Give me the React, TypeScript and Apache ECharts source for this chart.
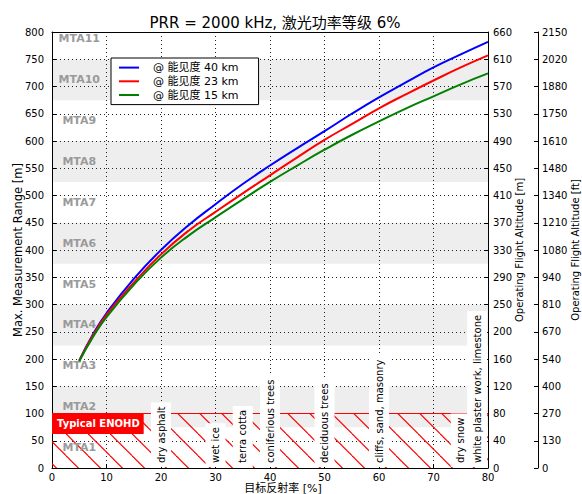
import React, { useEffect, useRef } from "react";
import * as echarts from "echarts";

const FONT = "'DejaVu Sans', 'Noto Sans CJK SC', sans-serif";

// Reflectivity [%] at which the range curves are sampled
const reflectivity = [5, 7.5, 10, 15, 20, 25, 30, 35, 40, 45, 50, 55, 60, 65, 70, 75, 80];
// Max. measurement range [m] per visibility
const range40km = [197, 245, 284, 347, 400, 445, 484, 521, 555, 587, 618, 650, 680, 708, 735, 759, 782];
const range23km = [197, 243, 281, 340, 392, 435, 470, 504, 537, 570, 602, 631, 660, 686, 711, 735, 757];
const range15km = [196, 240, 277, 336, 386, 426, 460, 493, 525, 555, 584, 611, 636, 660, 682, 704, 724];
const seriesNames = ["@ 能见度 40 km", "@ 能见度 23 km", "@ 能见度 15 km"];
const seriesColors = ["#0000ff", "#ff0000", "#008000"];

// Right-hand altitude scales, one label per 50 m range tick
const altitudeMLabels = ["0", "40", "80", "120", "160", "200", "250", "290", "330", "370", "410", "450", "490", "530", "570", "610", "660"];
const altitudeFtLabels = ["0", "130", "270", "400", "540", "670", "810", "940", "1080", "1210", "1340", "1480", "1610", "1750", "1880", "2020", "2150"];

// Multiple-time-around zones
const mtaNames = ["MTA1", "MTA2", "MTA3", "MTA4", "MTA5", "MTA6", "MTA7", "MTA8", "MTA9", "MTA10", "MTA11"];
const mtaBounds = [0, 75, 150, 225, 300, 375, 450, 525, 600, 675, 750, 825];

// Target materials and their typical reflectivity [%]
const materialNames = [
  "dry asphalt",
  "wet ice",
  "terra cotta",
  "coniferious trees",
  "deciduous trees",
  "cliffs, sand, masonry",
  "dry snow",
  "white plaster work, limestone",
];
const materialReflectivity = [20, 30, 35, 40, 50, 60, 75, 78];

// Eye-hazard zone
const enohdRange = 100;
const enohdLabel = "Typical ENOHD";

function makeHatch(): HTMLCanvasElement {
  const s = 22;
  const phase = 15.7;
  const c = document.createElement("canvas");
  c.width = s;
  c.height = s;
  const ctx = c.getContext("2d")!;
  ctx.strokeStyle = "#ff0000";
  ctx.lineWidth = 1.2;
  for (const k of [-s, 0, s]) {
    ctx.beginPath();
    ctx.moveTo(0, k + phase);
    ctx.lineTo(s, k + phase + s);
    ctx.stroke();
  }
  return c;
}

export default function App() {
  const ref = useRef<HTMLDivElement>(null);

  useEffect(() => {
    document.body.style.margin = "0";
    if (!ref.current) return;
    const chart = echarts.init(ref.current, null, { renderer: "svg" });
    const hatch = makeHatch();

    const axisLabelStyle = { fontFamily: FONT, fontSize: 10, color: "#000" };
    const splitLine = { show: true, lineStyle: { color: "#222", width: 1, type: [1, 3] as any } };
    const spine = { show: true, onZero: false, lineStyle: { color: "#000", width: 1 } };
    const ticks = { show: true, inside: true, length: 4, lineStyle: { color: "#000" } };

    const curveSeries = [range40km, range23km, range15km].map((arr, k) => ({
      type: "line",
      name: seriesNames[k],
      data: reflectivity.map((x, i) => [x, arr[i]]),
      smooth: true,
      symbol: "none",
      showSymbol: false,
      lineStyle: { color: seriesColors[k], width: 2 },
      itemStyle: { color: seriesColors[k] },
      z: 5,
    }));

    const option: any = {
      animation: false,
      title: {
        text: "PRR = 2000 kHz, 激光功率等级 6%",
        left: 270,
        top: 10,
        textAlign: "center",
        textStyle: { fontFamily: FONT, fontSize: 15, fontWeight: "normal", color: "#000" },
      },
      grid: { left: 52, top: 32, width: 436, height: 436, containLabel: false, outerBoundsMode: "none" },
      legend: {
        orient: "vertical",
        left: 111,
        top: 58,
        padding: [4, 20, 4, 7],
        itemGap: 2.5,
        itemWidth: 20,
        itemHeight: 14,
        backgroundColor: "#fff",
        borderColor: "#000",
        borderWidth: 1,
        borderRadius: 0,
        itemStyle: { opacity: 0 },
        lineStyle: { width: 2 },
        textStyle: { fontFamily: FONT, fontSize: 11, color: "#000", padding: [0, 0, 0, 9] },
        data: seriesNames,
        z: 6,
      },
      xAxis: [
        {
          type: "value",
          min: 0,
          max: 80,
          interval: 10,
          position: "bottom",
          z: 2,
          axisLine: spine,
          axisTick: ticks,
          axisLabel: { ...axisLabelStyle, margin: 4, lineHeight: 11 },
          splitLine,
          name: "目标反射率 [%]",
          nameLocation: "middle",
          nameGap: 15,
          nameMoveOverlap: false,
          nameTextStyle: {
            fontFamily: FONT,
            fontSize: 11,
            lineHeight: 11,
            color: "#000",
            padding: [0, 0, 0, 26],
          },
        },
        {
          type: "value",
          min: 0,
          max: 80,
          position: "top",
          z: 2,
          axisLine: spine,
          axisTick: { show: false },
          axisLabel: { show: false },
          splitLine: { show: false },
        },
      ],
      yAxis: [
        {
          type: "value",
          min: 0,
          max: 800,
          interval: 50,
          position: "left",
          z: 2,
          axisLine: spine,
          axisTick: ticks,
          axisLabel: { ...axisLabelStyle, margin: 8 },
          splitLine,
          name: "Max. Measurement Range [m]",
          nameLocation: "middle",
          nameGap: 28,
          nameRotate: 90,
          nameMoveOverlap: false,
          nameTextStyle: { fontFamily: FONT, fontSize: 11.5, color: "#000" },
        },
        {
          type: "value",
          min: 0,
          max: 800,
          interval: 50,
          position: "right",
          z: 2,
          axisLine: spine,
          axisTick: ticks,
          axisLabel: {
            ...axisLabelStyle,
            margin: 5,
            formatter: (v: number) => altitudeMLabels[Math.round(v / 50)] ?? "",
          },
          splitLine: { show: false },
          name: "Operating Flight Altitude [m]",
          nameLocation: "middle",
          nameGap: 26,
          nameRotate: 90,
          nameMoveOverlap: false,
          nameTextStyle: { fontFamily: FONT, fontSize: 10, color: "#000" },
        },
        {
          type: "value",
          min: 0,
          max: 800,
          interval: 50,
          position: "right",
          offset: 50,
          z: 2,
          axisLine: spine,
          axisTick: ticks,
          axisLabel: {
            ...axisLabelStyle,
            margin: 4,
            formatter: (v: number) => altitudeFtLabels[Math.round(v / 50)] ?? "",
          },
          splitLine: { show: false },
          name: "Operating Flight Altitude [ft]",
          nameLocation: "middle",
          nameGap: 32,
          nameRotate: 90,
          nameMoveOverlap: false,
          nameTextStyle: { fontFamily: FONT, fontSize: 10, color: "#000" },
        },
      ],
      series: [
        // shaded bands for the even MTA zones
        {
          type: "custom",
          silent: true,
          clip: true,
          z: 1,
          data: mtaNames
            .map((_, i) => [i, mtaBounds[i], mtaBounds[i + 1]])
            .filter((d) => d[0] % 2 === 1),
          renderItem: (_params: any, api: any) => {
            const p0 = api.coord([0, api.value(2)]);
            const p1 = api.coord([80, api.value(1)]);
            return {
              type: "rect",
              shape: { x: p0[0], y: p0[1], width: p1[0] - p0[0], height: p1[1] - p0[1] },
              style: { fill: "#eeeeee" },
            };
          },
        },
        // zone names
        {
          type: "custom",
          silent: true,
          z: 4,
          data: mtaNames.map((_, i) => [5, (mtaBounds[i] + mtaBounds[i + 1]) / 2]),
          renderItem: (params: any, api: any) => {
            const p = api.coord([api.value(0), api.value(1)]);
            return {
              type: "text",
              x: p[0],
              y: p[1],
              style: {
                text: mtaNames[params.dataIndex],
                fill: "#9a9a9a",
                fontFamily: FONT,
                fontSize: 11,
                fontWeight: "bold",
                align: "center",
                verticalAlign: "middle",
              },
            };
          },
        },
        // hatched eye-hazard zone
        {
          type: "custom",
          silent: true,
          z: 3,
          data: [[0, 0, 80, enohdRange]],
          renderItem: (_params: any, api: any) => {
            const p0 = api.coord([api.value(0), api.value(3)]);
            const p1 = api.coord([api.value(2), api.value(1)]);
            return {
              type: "group",
              children: [
                {
                  type: "rect",
                  shape: { x: p0[0], y: p0[1], width: p1[0] - p0[0], height: p1[1] - p0[1] },
                  style: { fill: { image: hatch, repeat: "repeat" } as any },
                },
                {
                  type: "line",
                  shape: { x1: p0[0], y1: p0[1], x2: p1[0], y2: p0[1] },
                  style: { stroke: "#ff0000", lineWidth: 1 },
                },
              ],
            };
          },
        },
        // ENOHD tag
        {
          type: "custom",
          silent: true,
          z: 4,
          data: [[0, enohdRange]],
          renderItem: (_params: any, api: any) => {
            const p = api.coord([api.value(0), api.value(1)]);
            return {
              type: "text",
              x: p[0],
              y: p[1],
              style: {
                text: enohdLabel,
                fill: "#fff",
                fontFamily: FONT,
                fontSize: 10,
                fontWeight: "bold",
                align: "left",
                verticalAlign: "top",
                backgroundColor: "#ff0000",
                padding: [4, 4, 4, 5],
                lineHeight: 12.5,
              },
            };
          },
        },
        // material names
        {
          type: "custom",
          silent: true,
          z: 4,
          data: materialReflectivity.map((x) => [x, 0]),
          renderItem: (params: any, api: any) => {
            const p = api.coord([api.value(0), api.value(1)]);
            return {
              type: "text",
              x: p[0],
              y: p[1] - 1,
              rotation: Math.PI / 2,
              style: {
                text: materialNames[params.dataIndex],
                fill: "#000",
                fontFamily: FONT,
                fontSize: 10,
                align: "left",
                verticalAlign: "middle",
                backgroundColor: "#fff",
                padding: [4, 4, 4, 4],
                lineHeight: 12,
              },
            };
          },
        },
        ...curveSeries,
      ],
    };

    chart.setOption(option);
    return () => chart.dispose();
  }, []);

  return <div ref={ref} style={{ width: 582, height: 494 }} />;
}
